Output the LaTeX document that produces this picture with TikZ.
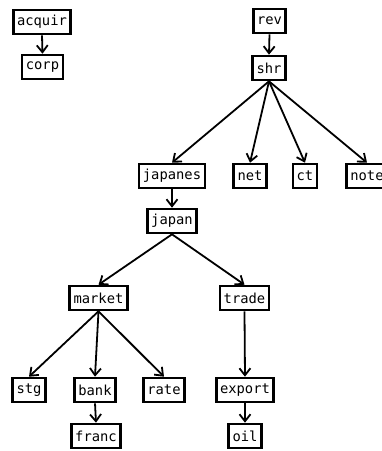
\documentclass[tikz,border=0pt]{standalone}
\usepackage{fontspec}
\setmonofont{DejaVu Sans Mono}
\usetikzlibrary{arrows.meta}
\begin{document}
\begin{tikzpicture}[x=1pt,y=-1pt,
  box/.style={draw=black,line width=2.6pt,fill=white,minimum height=24pt,inner xsep=3.8pt,inner ysep=0pt,
    font=\ttfamily\fontsize{13.8}{14}\selectfont},
  edge/.style={line width=1.8pt,-{Straight Barb[length=7pt,width=11pt,line width=1.8pt]}}]
\useasboundingbox (0,0) rectangle (382,451);
\clip (0,0) rectangle (382,451);
\node[box] (acquir) at (42,22) {acquir};
\node[box] (corp) at (42.5,67) {corp};
\node[box] (rev) at (269.5,21) {rev};
\node[box] (shr) at (269,68) {shr};
\node[box] (japanes) at (172,176) {japanes};
\node[box] (net) at (250,176) {net};
\node[box] (ct) at (305,176) {ct};
\node[box] (note) at (367,176) {note};
\node[box] (japan) at (172,221) {japan};
\node[box] (market) at (98.5,298) {market};
\node[box] (trade) at (244.5,298) {trade};
\node[box] (stg) at (29,390) {stg};
\node[box] (bank) at (95,390) {bank};
\node[box] (rate) at (164,390) {rate};
\node[box] (export) at (245,390) {export};
\node[box] (franc) at (96,436) {franc};
\node[box] (oil) at (245,436) {oil};
\foreach \a/\b in {acquir/corp,rev/shr,shr/japanes,shr/net,shr/ct,shr/note,japanes/japan,japan/market,japan/trade,market/stg,market/bank,market/rate,bank/franc,trade/export,export/oil}
  \draw[edge] (\a.south) -- (\b.north);
\end{tikzpicture}
\end{document}
